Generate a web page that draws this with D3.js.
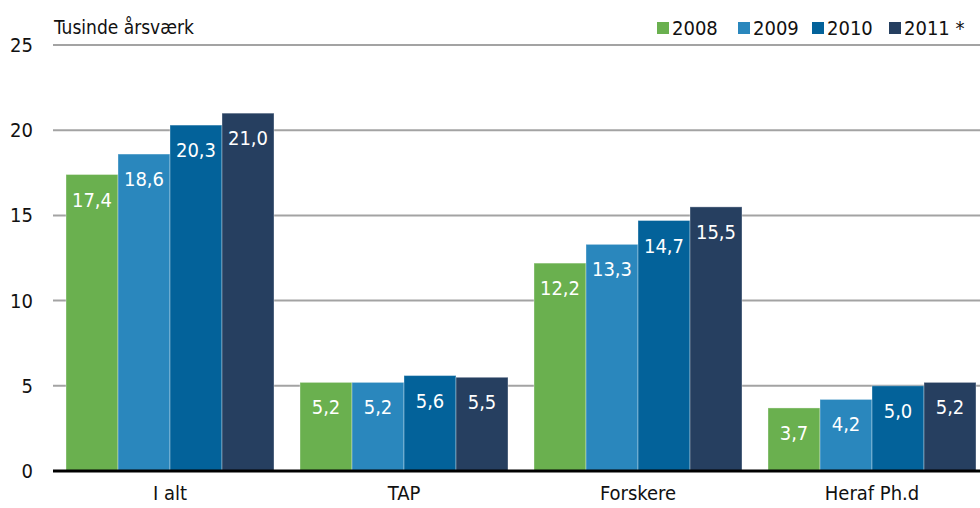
<!DOCTYPE html>
<html>
<head>
<meta charset="utf-8">
<script src="https://cdn.jsdelivr.net/npm/d3@7"></script>
<style>
  body { margin: 0; background: #fff; }
  svg { display: block; }
  svg text { font-family: "Liberation Sans Narrow", "DejaVu Sans Condensed", "Open Sans", sans-serif; }
</style>
</head>
<body>
<svg id="chart" width="980" height="508"></svg>
<script>
// data
let categories = ["I alt", "TAP", "Forskere", "Heraf Ph.d"];
let years = ["2008", "2009", "2010", "2011 *"];
let v2008 = [17.4, 5.2, 12.2, 3.7];
let v2009 = [18.6, 5.2, 13.3, 4.2];
let v2010 = [20.3, 5.6, 14.7, 5.0];
let v2011 = [21.0, 5.5, 15.5, 5.2];
let yTicks = [0, 5, 10, 15, 20, 25];
let colors = ["#6ab04f", "#2a87bd", "#03629a", "#263f60"];

let series = [v2008, v2009, v2010, v2011];

let svg = d3.select("#chart");
let plotLeft = 53, plotRight = 989, plotTop = 45, plotBottom = 471;

let x0 = d3.scaleBand().domain(categories).range([plotLeft, plotRight]);
let x1 = d3.scaleBand().domain(years).range([13, x0.bandwidth() - 13]);
let y = d3.scaleLinear().domain([0, 25]).range([plotBottom, plotTop]);

// gridlines
svg.append("g")
  .selectAll("line")
  .data(yTicks.filter(d => d > 0))
  .enter().append("line")
    .attr("x1", plotLeft).attr("x2", 980)
    .attr("y1", d => y(d)).attr("y2", d => y(d))
    .style("stroke", "#a3a3a3")
    .style("stroke-width", 2);

// y axis labels
let yAxis = svg.append("g")
  .attr("transform", "translate(33,0)")
  .call(d3.axisLeft(y).tickValues(yTicks).tickSize(0).tickPadding(0));
yAxis.select(".domain").remove();
yAxis.selectAll("text")
  .style("font-size", "20px")
  .style("fill", "#111");

// bars
let groups = svg.append("g")
  .selectAll("g")
  .data(categories)
  .enter().append("g")
    .attr("transform", d => "translate(" + x0(d) + ",0)");

let cells = groups.selectAll("g")
  .data((c, ci) => years.map((yr, si) => ({year: yr, value: series[si][ci], si: si})))
  .enter().append("g");

cells.append("rect")
  .attr("x", d => x1(d.year))
  .attr("y", d => y(d.value))
  .attr("width", x1.bandwidth())
  .attr("height", d => y(0) - y(d.value))
  .attr("fill", d => colors[d.si])
  .style("stroke", "rgba(255,255,255,0.35)")
  .style("stroke-width", 1);

cells.append("text")
  .attr("x", d => x1(d.year) + x1.bandwidth() / 2)
  .attr("y", d => y(d.value) + 25)
  .attr("text-anchor", "middle")
  .attr("dominant-baseline", "central")
  .style("fill", "#fff")
  .style("font-size", "20px")
  .text(d => d3.format(".1f")(d.value).replace(".", ","));

// baseline
svg.append("line")
  .attr("x1", plotLeft).attr("x2", 980)
  .attr("y1", y(0)).attr("y2", y(0))
  .style("stroke", "#000")
  .style("stroke-width", 3);

// category labels
let xAxis = svg.append("g")
  .attr("transform", "translate(0," + (y(0) + 15) + ")")
  .call(d3.axisBottom(x0).tickSize(0).tickPadding(0));
xAxis.select(".domain").remove();
xAxis.selectAll("text")
  .style("font-size", "20px")
  .style("fill", "#111");

// unit title
svg.append("text")
  .attr("x", 54).attr("y", 27)
  .attr("dominant-baseline", "central")
  .style("font-size", "19px")
  .style("fill", "#111")
  .text("Tusinde årsværk");

// legend
let legendX = [657, 738, 812, 889];
let legend = svg.append("g")
  .selectAll("g")
  .data(years)
  .enter().append("g")
    .attr("transform", (d, i) => "translate(" + legendX[i] + ",22)");
legend.append("rect")
  .attr("width", 12).attr("height", 12)
  .attr("fill", (d, i) => colors[i]);
legend.append("text")
  .attr("x", 15).attr("y", 6)
  .attr("dominant-baseline", "central")
  .style("font-size", "20px")
  .style("fill", "#111")
  .text(d => d);
</script>
</body>
</html>
